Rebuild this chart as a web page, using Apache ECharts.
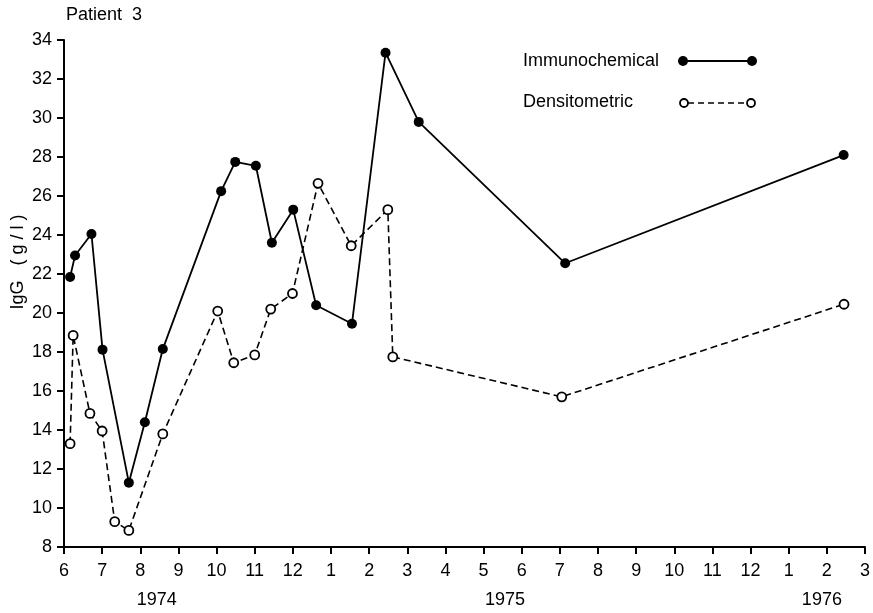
<!DOCTYPE html>
<html>
<head>
<meta charset="utf-8">
<script src="https://cdn.jsdelivr.net/npm/echarts@6/dist/echarts.min.js"></script>
<style>html,body{margin:0;padding:0;background:#fff}#c{width:873px;height:613px}</style>
</head>
<body>
<div id="c"></div>
<script>
// x = months since June 1974
const monthTicks = ['6','7','8','9','10','11','12','1','2','3','4','5','6','7','8','9','10','11','12','1','2','3'];
const yearLabels = [{x: 2.43, text: '1974'}, {x: 11.56, text: '1975'}, {x: 19.87, text: '1976'}];
const immunoX = [0.16, 0.29, 0.72, 1.01, 1.70, 2.12, 2.59, 4.12, 4.49, 5.03, 5.45, 6.01, 6.61, 7.55, 8.43, 9.30, 13.14, 20.44];
const immunoY = [21.85, 22.95, 24.05, 18.12, 11.3, 14.4, 18.15, 26.25, 27.75, 27.55, 23.6, 25.3, 20.4, 19.45, 33.35, 29.8, 22.55, 28.1];
const densX = [0.16, 0.24, 0.68, 1.00, 1.33, 1.70, 2.59, 4.03, 4.45, 5.00, 5.42, 5.99, 6.66, 7.53, 8.49, 8.62, 13.05, 20.45];
const densY = [13.3, 18.85, 14.85, 13.95, 9.3, 8.85, 13.8, 20.1, 17.45, 17.85, 20.2, 21.0, 26.65, 23.45, 25.3, 17.75, 15.7, 20.45];

const FONT = 'Liberation Sans';
const FS = 18;
const chart = echarts.init(document.getElementById('c'));
const zip = (a, b) => a.map((v, i) => [v, b[i]]);

chart.setOption({
  animation: false,
  backgroundColor: '#fff',
  textStyle: {fontFamily: FONT, color: '#000'},
  grid: {left: 64, right: 5, top: 40, bottom: 66},
  xAxis: {
    type: 'value', min: 0, max: 21, interval: 1,
    axisLine: {lineStyle: {color: '#000', width: 2}},
    axisTick: {show: true, length: 7, lineStyle: {color: '#000', width: 2}},
    axisLabel: {color: '#000', fontSize: FS, fontFamily: FONT, margin: 15,
      formatter: v => monthTicks[Math.round(v)]},
    splitLine: {show: false}
  },
  yAxis: {
    type: 'value', min: 8, max: 34, interval: 2,
    axisLine: {show: true, lineStyle: {color: '#000', width: 2}},
    axisTick: {show: true, length: 7, lineStyle: {color: '#000', width: 2}},
    axisLabel: {color: '#000', fontSize: FS, fontFamily: FONT, margin: 12},
    splitLine: {show: false}
  },
  series: [
    {
      name: 'Immunochemical', type: 'line', data: zip(immunoX, immunoY),
      symbol: 'circle', symbolSize: 10, showSymbol: true,
      lineStyle: {color: '#000', width: 1.8},
      itemStyle: {color: '#000', borderWidth: 0},
      z: 3
    },
    {
      name: 'Densitometric', type: 'line', data: zip(densX, densY),
      symbol: 'circle', symbolSize: 9, showSymbol: true,
      lineStyle: {color: '#000', width: 1.6, type: [7, 4]},
      itemStyle: {color: '#fff', borderColor: '#000', borderWidth: 1.8},
      z: 4
    }
  ]
});

function drawExtras() {
  const f = FS + 'px "' + FONT + '"';
  const g = [];
  g.push({type: 'text', left: 66, top: 6, style: {text: 'Patient  3', font: f, fill: '#000'}});
  g.push({type: 'text', x: 18, y: 262, rotation: Math.PI / 2, style: {text: 'IgG   ( g / l )', font: f, fill: '#000', align: 'center', verticalAlign: 'middle'}});
  yearLabels.forEach(yl => {
    const p = chart.convertToPixel({gridIndex: 0}, [yl.x, 8]);
    g.push({type: 'text', x: p[0], y: 600, style: {text: yl.text, font: f, fill: '#000', align: 'center', verticalAlign: 'middle'}});
  });
  // legend
  g.push({type: 'text', x: 523, y: 61, style: {text: 'Immunochemical', font: f, fill: '#000', verticalAlign: 'middle'}});
  g.push({type: 'line', shape: {x1: 683, y1: 61, x2: 752, y2: 61}, style: {stroke: '#000', lineWidth: 1.8}});
  g.push({type: 'circle', shape: {cx: 683, cy: 61, r: 5}, style: {fill: '#000'}});
  g.push({type: 'circle', shape: {cx: 752, cy: 61, r: 5}, style: {fill: '#000'}});
  g.push({type: 'text', x: 523, y: 102, style: {text: 'Densitometric', font: f, fill: '#000', verticalAlign: 'middle'}});
  g.push({type: 'line', shape: {x1: 688, y1: 103, x2: 747, y2: 103}, style: {stroke: '#000', lineWidth: 1.6, lineDash: [6, 4]}});
  g.push({type: 'circle', shape: {cx: 684, cy: 103, r: 4}, style: {fill: '#fff', stroke: '#000', lineWidth: 1.8}});
  g.push({type: 'circle', shape: {cx: 751, cy: 103, r: 4}, style: {fill: '#fff', stroke: '#000', lineWidth: 1.8}});
  chart.setOption({graphic: g});
}
drawExtras();
</script>
</body>
</html>
